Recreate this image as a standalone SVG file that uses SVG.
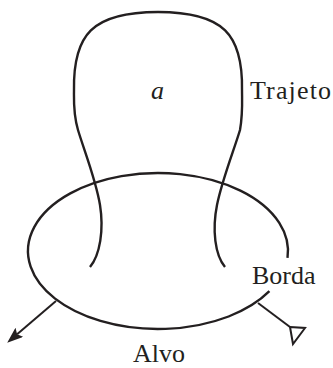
<svg xmlns="http://www.w3.org/2000/svg" width="333" height="368" viewBox="0 0 333 368">
<style>
.ln{fill:none;stroke:#231f20;stroke-width:2.4;stroke-linecap:butt}
.ar{fill:none;stroke:#231f20;stroke-width:2}
.t{font-family:"Liberation Serif","Times New Roman",serif;font-size:26px;fill:#231f20}
</style>
<defs>
<marker id="filled" viewBox="0 0 16 12" refX="3" refY="6" markerWidth="16" markerHeight="12" markerUnits="userSpaceOnUse" orient="auto">
<path d="M0,0 L16,6 L0,12 L3,6 z" fill="#231f20"/>
</marker>
</defs>
<rect width="333" height="368" fill="#fff"/>
<g id="borda">
<path class="ln" d="M 269.4 291.2 A 130 78 0 1 1 287.5 257.8"/>
</g>
<g id="trajeto">
<path class="ln" d="M 90 267 C 100 255 104 230 100 205 C 96 180 84 150 78 130 C 73 113 74 100 74 90 C 73 35 92 12 158 12 C 224 12 243 35 242 90 C 242 100 243 113 240 130 C 234 150 222 180 217 205 C 212 230 215 255 225 267"/>
</g>
<g id="connectors">
<line class="ar" x1="56" y1="301" x2="17.1" y2="334.2" marker-end="url(#filled)"/>
<line class="ar" x1="258" y1="303" x2="290" y2="327"/>
<polygon class="ar" points="290,327 305,328 293,344"/>
</g>
<g id="labels">
<text class="t" x="157.5" y="99" text-anchor="middle" font-style="italic">a</text>
<text class="t" x="250" y="99" textLength="81">Trajeto</text>
<text class="t" x="252" y="284">Borda</text>
<text class="t" x="133" y="362">Alvo</text>
</g>
</svg>
